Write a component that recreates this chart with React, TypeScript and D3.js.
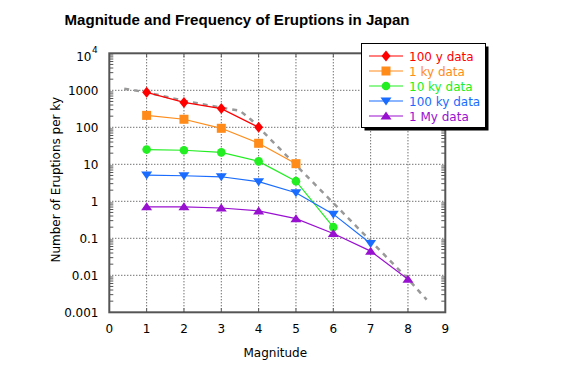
import React from "react";
import * as d3 from "d3";

// values (eruptions per ky by magnitude)
const mags = [1, 2, 3, 4, 5, 6, 7, 8];
const data100y = [880, 470, 320, 100];
const data1ky = [210, 165, 94, 37, 10.4];
const data10ky = [25, 24, 21, 12, 3.5, 0.2];
const data100ky = [5.1, 4.9, 4.6, 3.4, 1.7, 0.45, 0.072];
const data1My = [0.71, 0.71, 0.66, 0.55, 0.34, 0.135, 0.045, 0.0078];

// grey dashed trend curve
const trendX = [0.4, 1, 2, 3, 3.5, 3.8, 4, 5, 6, 7, 8, 8.5];
const trendY = [1100, 880, 520, 340, 280, 160, 100, 9.5, 0.9, 0.085, 0.008, 0.0022];

const xTicks = [0, 1, 2, 3, 4, 5, 6, 7, 8, 9];
const yTicks = [0.001, 0.01, 0.1, 1, 10, 100, 1000];
const yTickLabels = ["0.001", "0.01", "0.1", "1", "10", "100", "1000"];

const series = [
  { name: "100 y data", values: data100y, color: "#ff0000", shape: "diamond" },
  { name: "1 ky data", values: data1ky, color: "#ff8c1a", shape: "square" },
  { name: "10 ky data", values: data10ky, color: "#22ee22", shape: "circle" },
  { name: "100 ky data", values: data100ky, color: "#1a6cff", shape: "down" },
  { name: "1 My data", values: data1My, color: "#9911d0", shape: "up" },
];

const W = 575;
const H = 368;
const left = 109.3;
const right = 445.3;
const top = 53.3;
const bottom = 312.3;

const x = d3.scaleLinear().domain([0, 9]).range([left, right]);
const y = d3.scaleLog().domain([0.001, 10000]).range([bottom, top]);

const font = "'DejaVu Sans', sans-serif";
const axisColor = "#555";

function Marker({ shape, cx, cy, color }: { shape: string; cx: number; cy: number; color: string }) {
  if (shape === "diamond")
    return <path d={`M${cx},${cy - 5.5}L${cx + 4.5},${cy}L${cx},${cy + 5.5}L${cx - 4.5},${cy}Z`} fill={color} />;
  if (shape === "square") return <rect x={cx - 4.5} y={cy - 4.5} width={9} height={9} fill={color} />;
  if (shape === "circle") return <circle cx={cx} cy={cy} r={4.3} fill={color} />;
  if (shape === "down")
    return <path d={`M${cx - 5.5},${cy - 3.5}L${cx + 5.5},${cy - 3.5}L${cx},${cy + 4.5}Z`} fill={color} />;
  return <path d={`M${cx - 5.5},${cy + 3.5}L${cx + 5.5},${cy + 3.5}L${cx},${cy - 4.5}Z`} fill={color} />;
}

export default function App() {
  const line = d3
    .line<number>()
    .x((_, i) => x(mags[i]))
    .y((d) => y(d));
  const trend = d3
    .line<number>()
    .x((_, i) => x(trendX[i]))
    .y((d) => y(d));

  const minor: number[] = [];
  for (let e = -3; e < 4; e++) for (let k = 2; k < 10; k++) minor.push(k * Math.pow(10, e));

  const legX = 361.5;
  const legY = 43.5;

  return (
    <svg width={W} height={H} style={{ position: "absolute", left: 0, top: 0, background: "#fff" }} fontFamily={font}>
      <text x={237} y={24.5} textAnchor="middle" fontSize={14} fontWeight="bold" fontFamily="'Liberation Sans', sans-serif" textLength={345} lengthAdjust="spacingAndGlyphs">
        Magnitude and Frequency of Eruptions in Japan
      </text>

      {/* grid */}
      <g stroke="#333" strokeWidth={1} strokeDasharray="1,2">
        {mags.map((m) => (
          <line key={m} x1={x(m)} x2={x(m)} y1={top} y2={bottom} />
        ))}
        {yTicks.slice(1).map((v) => (
          <line key={v} x1={left} x2={right} y1={y(v)} y2={y(v)} />
        ))}
      </g>

      {/* frame and ticks */}
      <g stroke={axisColor} strokeWidth={1}>
        {minor.map((v, i) => (
          <g key={i}>
            <line x1={left} x2={left + 4} y1={y(v)} y2={y(v)} />
            <line x1={right - 4} x2={right} y1={y(v)} y2={y(v)} />
          </g>
        ))}
        {mags.map((m) => (
          <g key={m}>
            <line x1={x(m)} x2={x(m)} y1={top} y2={top + 4} />
            <line x1={x(m)} x2={x(m)} y1={bottom - 4} y2={bottom} />
          </g>
        ))}
      </g>
      <rect x={left} y={top} width={right - left} height={bottom - top} fill="none" stroke={axisColor} strokeWidth={2} />

      {/* tick labels */}
      <g fontSize={12} fill="#000">
        {xTicks.map((t) => (
          <text key={t} x={x(t)} y={333} textAnchor="middle">
            {t}
          </text>
        ))}
        {yTicks.map((v, i) => (
          <text key={v} x={98.5} y={y(v) + 5} textAnchor="end">
            {yTickLabels[i]}
          </text>
        ))}
        <text x={91.5} y={61} textAnchor="end">10</text>
        <text x={92} y={53} fontSize={9}>4</text>
      </g>

      <text x={x(4.5) - 2} y={357} textAnchor="middle" fontSize={12}>
        Magnitude
      </text>
      <text transform={`translate(59.5,${(top + bottom) / 2 - 3}) rotate(-90)`} textAnchor="middle" fontSize={12}>
        Number of Eruptions per ky
      </text>

      {/* trend */}
      <path d={trend(trendY) || ""} fill="none" stroke="#999" strokeWidth={2.5} strokeDasharray="5,5" />

      {/* series */}
      {series.map((s) => (
        <g key={s.name}>
          <path d={line(s.values) || ""} fill="none" stroke={s.color} strokeWidth={1.2} />
          {s.values.map((v, i) => (
            <Marker key={i} shape={s.shape} cx={x(mags[i])} cy={y(v)} color={s.color} />
          ))}
        </g>
      ))}

      {/* legend */}
      <rect x={legX + 3} y={legY + 3} width={124} height={84} fill="#000" />
      <rect x={legX} y={legY} width={124} height={84} fill="#fff" stroke="#000" strokeWidth={1} />
      {series.map((s, i) => {
        const ly = 56 + i * 15;
        return (
          <g key={s.name}>
            <line x1={369} x2={403} y1={ly} y2={ly} stroke={s.color} strokeWidth={1.2} />
            <Marker shape={s.shape} cx={386} cy={ly} color={s.color} />
            <text x={409} y={ly + 4.5} fontSize={12} fill={s.color}>
              {s.name}
            </text>
          </g>
        );
      })}
    </svg>
  );
}
